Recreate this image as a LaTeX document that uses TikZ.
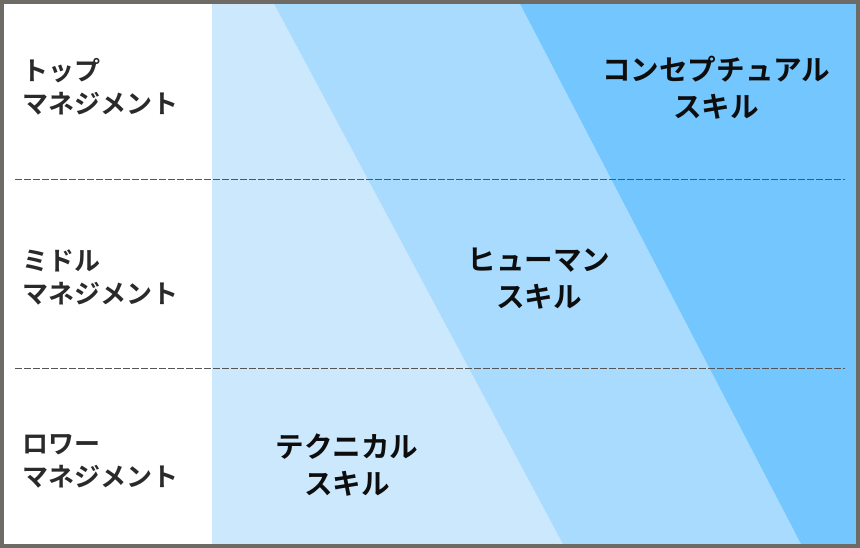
\documentclass[tikz,border=0pt]{standalone}
\usepackage{fontspec}
\newfontfamily\jpfont{Noto Sans CJK JP Bold}
\definecolor{bandA}{HTML}{CCE8FD}
\definecolor{bandB}{HTML}{A8DBFE}
\definecolor{bandC}{HTML}{73C6FE}
\definecolor{frameC}{HTML}{6E6A66}
\definecolor{dashC}{HTML}{555555}
\definecolor{levelC}{HTML}{2A2A2A}
\tikzset{
  levellab/.style={anchor=west, inner sep=0pt, align=left, text=levelC,
    font=\jpfont\fontsize{26}{33}\selectfont},
  skilllab/.style={inner sep=0pt, align=center, text=black!95,
    font=\jpfont\fontsize{28.6}{37}\selectfont},
  divider/.style={draw=dashC, line width=0.8pt, dash pattern=on 7pt off 2pt},
}
\begin{document}
\begin{tikzpicture}[x=1pt,y=-1pt]
\useasboundingbox (0,0) rectangle (860,548);
\fill[white] (0,0) rectangle (212,548);
\fill[bandA] (212,0) -- (272,0) -- (565,548) -- (212,548) -- cycle;
\fill[bandB] (272,0) -- (518,0) -- (803,548) -- (565,548) -- cycle;
\fill[bandC] (518,0) -- (860,0) -- (860,548) -- (803,548) -- cycle;
\draw[frameC, line width=4pt] (2,2) rectangle (858,546);
\coordinate (d1a) at (15,179);
\coordinate (d1b) at (845,179);
\coordinate (d2a) at (15,368);
\coordinate (d2b) at (845,368);
\draw[divider] (d1a) -- (d1b);
\draw[divider] (d2a) -- (d2b);
\node[levellab] (top) at (22,87) {トップ\\マネジメント};
\node[levellab] (mid) at (22,277) {ミドル\\マネジメント};
\node[levellab] (low) at (22,461) {ロワー\\マネジメント};
\node[skilllab] (concept) at (716,88) {コンセプチュアル\\スキル};
\node[skilllab] (human) at (539,279) {ヒューマン\\スキル};
\node[skilllab] (tech) at (347,465) {テクニカル\\スキル};
\end{tikzpicture}
\end{document}
